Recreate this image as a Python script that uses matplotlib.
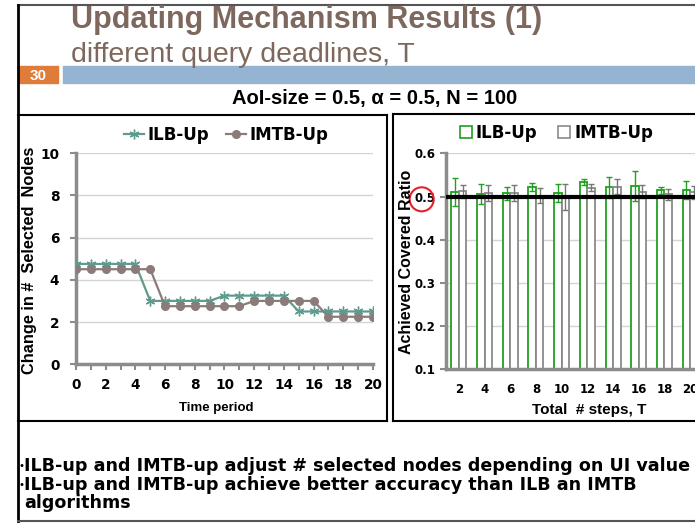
import matplotlib
matplotlib.use("Agg")
import matplotlib.pyplot as plt
import numpy as np
from matplotlib.lines import Line2D
from matplotlib.patches import Rectangle, Ellipse

W, H = 695, 523

# left chart: change in number of selected nodes over time
time_period = [0, 1, 2, 3, 4, 5, 6, 7, 8, 9, 10, 11, 12, 13, 14, 15, 16, 17, 18, 19, 20]
ilb_up_nodes = [4.75, 4.75, 4.75, 4.75, 4.75, 3.0, 3.0, 3.0, 3.0, 3.0, 3.25,
                3.25, 3.25, 3.25, 3.25, 2.5, 2.5, 2.5, 2.5, 2.5, 2.5]
imtb_up_nodes = [4.5, 4.5, 4.5, 4.5, 4.5, 4.5, 2.75, 2.75, 2.75, 2.75, 2.75,
                 2.75, 3.0, 3.0, 3.0, 3.0, 3.0, 2.25, 2.25, 2.25, 2.25]

# right chart: achieved covered ratio per total steps T
steps = ["2", "4", "6", "8", "10", "12", "14", "16", "18", "20"]
ilb_up_ratio = [0.511, 0.506, 0.507, 0.522, 0.508, 0.533, 0.521, 0.524, 0.514, 0.515]
ilb_up_err = [0.032, 0.023, 0.016, 0.009, 0.021, 0.007, 0.025, 0.035, 0.009, 0.02]
imtb_up_ratio = [0.512, 0.508, 0.508, 0.502, 0.499, 0.520, 0.523, 0.511, 0.505, 0.51]
imtb_up_err = [0.015, 0.018, 0.019, 0.018, 0.030, 0.008, 0.018, 0.015, 0.012, 0.015]

bullets = ["ILB-up and IMTB-up adjust # selected nodes depending on UI value",
           "ILB-up and IMTB-up achieve better accuracy than ILB an IMTB",
           "algorithms"]

def fx(x):
    return x / W

def fy(y):
    return 1 - y / H

ARIAL = "Liberation Sans"
BOLDF = "DejaVu Sans"
teal = "#5f9b8d"
taupe = "#8b7b79"
green = "#1fa01f"
gray = "#8a8a8a"
axis_gray = "#8c8c8c"
grid_gray = "#d4d4d4"

fig = plt.figure(figsize=(6.95, 5.23), dpi=100)

# slide header
fig.text(fx(71), fy(28), "Updating Mechanism Results (1)", family=ARIAL,
         weight="bold", fontsize=22, color="#7e685d", va="baseline")
fig.text(fx(71), fy(62), "different query deadlines, T", family=ARIAL,
         fontsize=20.5, color="#7e685d", va="baseline")
fig.add_artist(Rectangle((fx(18), fy(83)), fx(40), 17 / H, color="#e07c3a",
                         transform=fig.transFigure))
fig.add_artist(Rectangle((fx(63), fy(83)), fx(640), 17 / H, color="#94b4d1",
                         transform=fig.transFigure))
fig.text(fx(38), fy(80), "30", family=ARIAL, weight="bold", fontsize=11,
         color="white", ha="center", va="baseline")
fig.text(fx(375), fy(104), "AoI-size = 0.5, \u03b1 = 0.5, N = 100",
         family=ARIAL, weight="bold", fontsize=14.5, ha="center", va="baseline")

# frame lines
def seg(x0, y0, x1, y1, color="black", lw=1.5):
    fig.add_artist(Line2D([fx(x0), fx(x1)], [fy(y0), fy(y1)], color=color,
                          lw=lw, transform=fig.transFigure))

seg(18, 5, 700, 5, color="#555555", lw=1.5)
seg(18, 5, 18, 521, lw=2)
seg(18, 115, 387, 115)
seg(387, 115, 387, 421)
seg(18, 421, 387, 421)
seg(393, 114, 700, 114)
seg(393, 114, 393, 421)
seg(393, 421, 700, 421)
seg(18, 521, 700, 521, color="#555555", lw=1.5)

# left chart
ax1 = fig.add_axes([fx(76), fy(364.3), 297 / W, 211.3 / H])
ax1.plot(time_period, ilb_up_nodes, color=teal, lw=1.6, marker=(6, 2, 0),
         ms=7, mew=1.0, label="ILB-Up", zorder=3)
ax1.plot(time_period, imtb_up_nodes, color=taupe, lw=1.6, marker="o",
         ms=5.5, label="IMTB-Up", zorder=3)
ax1.set_xlim(0, 20)
ax1.set_ylim(0, 10)
ax1.set_xticks(range(0, 21, 2))
ax1.set_xticks(time_period, minor=True)
ax1.set_yticks(range(0, 11, 2))
ax1.grid(axis="y", color=grid_gray, lw=1)
ax1.set_axisbelow(True)
for s in ["top", "right"]:
    ax1.spines[s].set_visible(False)
for s in ["left", "bottom"]:
    ax1.spines[s].set_color(axis_gray)
    ax1.spines[s].set_linewidth(2.5)
ax1.tick_params(which="both", direction="out", color=axis_gray, width=1.5,
                length=4)
ax1.tick_params(axis="x", pad=6)
ax1.tick_params(axis="y", pad=8)
for lab in ax1.get_xticklabels() + ax1.get_yticklabels():
    lab.set_family(BOLDF)
    lab.set_weight("bold")
    lab.set_fontsize(9.8)
fig.text(fx(216), fy(411), "Time period", family=ARIAL, weight="bold",
         fontsize=9.5, ha="center", va="baseline")
fig.text(fx(30), fy(260), "Change in #  Selected  Nodes", family=ARIAL,
         weight="bold", fontsize=11.8, rotation=90, ha="center", va="center")
fig.legend(handles=ax1.get_lines(), loc="center", bbox_to_anchor=(fx(226), fy(135)),
           ncol=2, frameon=False, prop={"family": BOLDF, "weight": "bold", "size": 12},
           handlelength=1.2, handletextpad=0.2, columnspacing=1.0)

# right chart
ax2 = fig.add_axes([fx(446), fy(369.3), 257 / W, 216 / H])
x = np.arange(len(steps))
bw = 0.29
ax2.bar(x - bw / 2, ilb_up_ratio, bw, facecolor="white", edgecolor=green,
        lw=1.3, zorder=2)
ax2.bar(x + bw / 2, imtb_up_ratio, bw, facecolor="white", edgecolor=gray,
        lw=1.3, zorder=2)
ax2.errorbar(x - bw / 2, ilb_up_ratio, yerr=ilb_up_err, fmt="none",
             ecolor=green, elinewidth=1, capsize=2.5, capthick=1, zorder=3)
ax2.errorbar(x + bw / 2, imtb_up_ratio, yerr=imtb_up_err, fmt="none",
             ecolor="#777777", elinewidth=1, capsize=2.5, capthick=1, zorder=3)
ax2.axhline(0.5, color="black", lw=3, zorder=4)
ax2.set_xlim(-0.5, len(steps) - 0.5)
ax2.set_ylim(0.1, 0.6)
ax2.set_xticks(x)
ax2.set_xticklabels(steps)
ax2.set_yticks([0.1, 0.2, 0.3, 0.4, 0.5, 0.6])
ax2.grid(axis="y", color=grid_gray, lw=1)
ax2.set_axisbelow(True)
for s in ["top", "right"]:
    ax2.spines[s].set_visible(False)
for s in ["left", "bottom"]:
    ax2.spines[s].set_color(axis_gray)
    ax2.spines[s].set_linewidth(2.5)
ax2.tick_params(axis="y", direction="out", color=axis_gray, width=1.5, length=4)
ax2.tick_params(axis="x", length=0, pad=10)
for lab in ax2.get_xticklabels() + ax2.get_yticklabels():
    lab.set_family(BOLDF)
    lab.set_weight("bold")
    lab.set_fontsize(8.5)
fig.text(fx(589), fy(414), "Total  # steps, T", family=ARIAL, weight="bold",
         fontsize=11, ha="center", va="baseline")
fig.text(fx(406), fy(262), "Achieved Covered Ratio", family=ARIAL,
         weight="bold", fontsize=11.5, rotation=90, ha="center", va="center")
sq = [Line2D([], [], ls="none", marker="s", ms=9, mfc="white", mec=green,
             mew=1.2, label="ILB-Up"),
      Line2D([], [], ls="none", marker="s", ms=9, mfc="white", mec=gray,
             mew=1.2, label="IMTB-Up")]
fig.legend(handles=sq, loc="center", bbox_to_anchor=(fx(556), fy(133)), ncol=2,
           frameon=False, prop={"family": BOLDF, "weight": "bold", "size": 12},
           handlelength=0.8, handletextpad=0.2, columnspacing=1.2)

# red circle round the 0.5 label
fig.add_artist(Ellipse((fx(421.7), fy(199.3)), 24 / W, 24 / H, fill=False,
                       edgecolor="#e8202a", lw=1.5, transform=fig.transFigure))

# bullet text
for i, (line, yb) in enumerate(zip(bullets, [471, 490, 508])):
    if i < 2:
        fig.text(fx(21), fy(yb - 5), "\u2022", family=ARIAL, fontsize=8,
                 ha="center", va="center")
    fig.text(fx(24), fy(yb), line, family=BOLDF, weight="bold", fontsize=12.6,
             va="baseline")

fig.savefig("out.png", dpi=100)
